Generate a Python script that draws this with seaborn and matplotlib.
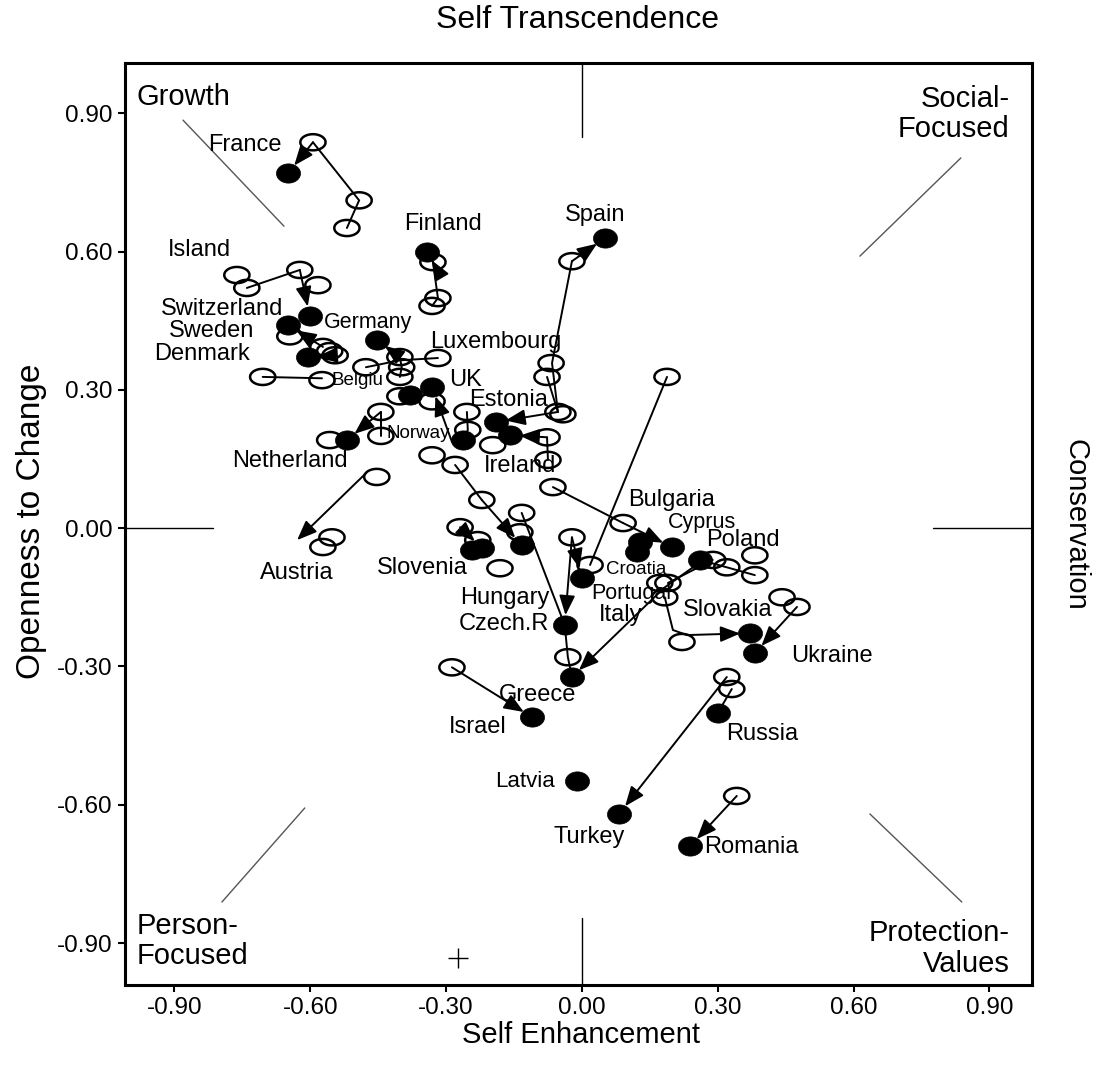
import numpy as np
import matplotlib
matplotlib.use('Agg')
import matplotlib.pyplot as plt
from matplotlib.path import Path
import seaborn as sns

# latest round (filled) and earlier rounds (open) of each country
filled_x = [-0.649, -0.342, 0.051, -0.601, -0.649, -0.605, -0.453, -0.380, -0.331, -0.263,
            -0.519, -0.190, -0.159, -0.221, -0.243, -0.133, 0.000, -0.038, -0.022, 0.128,
            0.121, 0.199, 0.261, 0.371, 0.382, 0.300, -0.110, -0.011, 0.082, 0.239]
filled_y = [0.770, 0.599, 0.629, 0.460, 0.440, 0.371, 0.408, 0.289, 0.306, 0.191,
            0.191, 0.230, 0.202, -0.043, -0.048, -0.037, -0.108, -0.210, -0.323, -0.030,
            -0.052, -0.041, -0.069, -0.228, -0.271, -0.401, -0.410, -0.549, -0.620, -0.690]

open_x = [-0.594, -0.492, -0.519, -0.329, -0.318, -0.331, -0.022, -0.762, -0.740, -0.623,
          -0.583, -0.645, -0.572, -0.557, -0.545, -0.705, -0.574, -0.477, -0.402, -0.398,
          -0.402, -0.318, -0.068, -0.077, -0.402, -0.331, -0.254, -0.252, -0.557, -0.444,
          -0.444, -0.197, -0.077, -0.075, -0.053, -0.042, -0.064, -0.331, -0.280, -0.221,
          -0.453, -0.552, -0.572, -0.269, -0.181, -0.133, -0.137, -0.230, -0.022, 0.018,
          0.091, 0.188, 0.289, 0.320, 0.382, 0.382, 0.172, 0.190, 0.183, 0.221,
          0.442, 0.475, 0.320, 0.331, -0.031, -0.287, 0.342]
open_y = [0.837, 0.711, 0.651, 0.577, 0.499, 0.482, 0.579, 0.549, 0.521, 0.560,
          0.527, 0.416, 0.393, 0.384, 0.375, 0.328, 0.321, 0.349, 0.371, 0.349,
          0.328, 0.369, 0.358, 0.328, 0.286, 0.275, 0.252, 0.213, 0.191, 0.252,
          0.200, 0.180, 0.197, 0.148, 0.252, 0.247, 0.089, 0.158, 0.137, 0.061,
          0.111, -0.020, -0.041, 0.002, -0.087, 0.033, -0.009, -0.026, -0.020, -0.080,
          0.011, 0.328, -0.069, -0.085, -0.059, -0.102, -0.119, -0.119, -0.150, -0.247,
          -0.150, -0.171, -0.323, -0.349, -0.280, -0.302, -0.581]

# trajectories between rounds (arrow on the last step)
path_x = [[-0.519, -0.492, -0.594, -0.649], [-0.331, -0.318, -0.329, -0.342],
          [-0.053, -0.066, -0.022, 0.051], [-0.740, -0.623, -0.601], [-0.572, -0.649],
          [-0.705, -0.574], [-0.545, -0.605], [-0.402, -0.398, -0.402, -0.453],
          [-0.477, -0.402, -0.318], [-0.287, -0.331], [-0.254, -0.252, -0.263],
          [-0.444, -0.444, -0.519], [-0.077, -0.053, -0.190], [-0.075, -0.077, -0.159],
          [-0.280, -0.221, -0.133], [-0.269, -0.221], [-0.133, -0.038], [-0.022, 0.000],
          [-0.022, -0.038], [0.188, 0.018], [-0.038, -0.031, -0.022], [0.261, 0.181, -0.022],
          [0.382, 0.320, 0.261], [0.289, 0.190], [-0.064, 0.091, 0.199],
          [0.183, 0.201, 0.232, 0.371], [0.475, 0.382], [0.331, 0.300], [0.320, 0.082],
          [-0.287, -0.110], [0.342, 0.239], [-0.476, -0.629]]
path_y = [[0.651, 0.711, 0.837, 0.770], [0.482, 0.499, 0.577, 0.599],
          [0.252, 0.358, 0.579, 0.629], [0.521, 0.560, 0.460], [0.393, 0.440],
          [0.328, 0.325], [0.375, 0.371], [0.328, 0.349, 0.371, 0.408],
          [0.349, 0.364, 0.369], [0.187, 0.306], [0.252, 0.213, 0.191],
          [0.200, 0.252, 0.191], [0.328, 0.252, 0.230], [0.148, 0.197, 0.202],
          [0.137, 0.061, -0.037], [0.002, -0.043], [0.033, -0.210], [-0.020, -0.108],
          [-0.020, -0.210], [0.328, -0.080], [-0.210, -0.280, -0.323], [-0.074, -0.130, -0.323],
          [-0.102, -0.085, -0.069], [-0.069, -0.119], [0.089, 0.011, -0.041],
          [-0.150, -0.221, -0.232, -0.228], [-0.171, -0.271], [-0.349, -0.401], [-0.323, -0.620],
          [-0.302, -0.410], [-0.581, -0.690], [0.120, -0.026]]
path_arrow = [1, 1, 1, 1, 1, 0, 1, 1, 0, 1, 0, 1, 1, 1, 1, 1, 0, 1, 1, 0, 0, 1,
              0, 0, 1, 1, 1, 0, 1, 1, 1, 2]   # 2 = arrow without a dot at the end

countries = ['France', 'Island', 'Switzerland', 'Sweden', 'Denmark', 'Germany', 'Belgiu',
             'Luxembourg', 'UK', 'Estonia', 'Norway', 'Netherland', 'Ireland', 'Austria',
             'Slovenia', 'Hungary', 'Czech.R', 'Croatia', 'Portugal', 'Italy', 'Bulgaria',
             'Cyprus', 'Poland', 'Slovakia', 'Ukraine', 'Russia', 'Greece', 'Israel',
             'Latvia', 'Turkey', 'Romania', 'Spain', 'Finland']
label_x = [-0.744, -0.844, -0.795, -0.817, -0.839, -0.473, -0.495, -0.190, -0.258, -0.163,
           -0.362, -0.645, -0.137, -0.629, -0.353, -0.170, -0.172, 0.119, 0.110, 0.086,
           0.199, 0.265, 0.356, 0.322, 0.552, 0.398, -0.097, -0.230, -0.126, 0.016,
           0.375, 0.029, -0.307]
label_y = [0.831, 0.603, 0.475, 0.427, 0.377, 0.447, 0.321, 0.403, 0.321, 0.278,
           0.206, 0.145, 0.134, -0.098, -0.087, -0.152, -0.208, -0.089, -0.141, -0.189,
           0.061, 0.013, -0.026, -0.178, -0.278, -0.447, -0.362, -0.432, -0.549, -0.670,
           -0.692, 0.679, 0.659]
label_size = [17, 17, 17, 17, 17, 15.5, 13.5, 17, 17, 17, 13.5, 17, 17, 17, 17, 17, 17,
              13.5, 15.5, 17, 17, 15.5, 17, 17, 17, 17, 17, 17, 16, 17, 17, 17, 17]

ticks = [-0.9, -0.6, -0.3, 0.0, 0.3, 0.6, 0.9]
tick_labels = ['-0.90', '-0.60', '-0.30', '0.00', '0.30', '0.60', '0.90']

sns.set_theme(style='white')
plt.rcParams['font.family'] = ['Liberation Sans', 'DejaVu Sans']
plt.rcParams['text.color'] = 'black'
plt.rcParams['axes.labelcolor'] = 'black'

fig = plt.figure(figsize=(10.94, 10.69), dpi=100)
ax = fig.add_axes([0.1143, 0.0786, 0.829, 0.8625])

t = np.linspace(0, 2 * np.pi, 80)
open_mark = Path(np.column_stack([np.cos(t), 0.64 * np.sin(t)]))
dot_mark = Path(np.column_stack([np.cos(t), 0.8 * np.sin(t)]))

# trajectories
for xs, ys, arr in zip(path_x, path_y, path_arrow):
    if arr:
        if len(xs) > 2:
            ax.plot(xs[:-1], ys[:-1], color='black', lw=1.4, zorder=2)
        ax.annotate('', xy=(xs[-1], ys[-1]), xytext=(xs[-2], ys[-2]),
                    arrowprops=dict(arrowstyle='-|>,head_length=0.75,head_width=0.3',
                                    color='black', lw=1.4, shrinkA=0,
                                    shrinkB=7 if arr == 1 else 0, mutation_scale=16),
                    zorder=3)
    else:
        ax.plot(xs, ys, color='black', lw=1.4, zorder=2)

sns.scatterplot(x=open_x, y=open_y, marker=open_mark, s=330, facecolor='none',
                edgecolor='black', linewidth=1.8, ax=ax, zorder=3)
sns.scatterplot(x=filled_x, y=filled_y, marker=dot_mark, s=300, color='black',
                edgecolor='black', linewidth=0.5, ax=ax, zorder=4)

for name, lx, ly, fs in zip(countries, label_x, label_y, label_size):
    ax.text(lx, ly, name, ha='center', va='center', fontsize=fs, color='black', zorder=5)

# quadrant guides
ax.plot([0, 0], [0.848, 1.01], color='black', lw=1)
ax.plot([0, 0], [-0.846, -1.0], color='black', lw=1)
ax.plot([-1.01, -0.815], [0, 0], color='black', lw=1)
ax.plot([0.775, 1.0], [0, 0], color='black', lw=1)
ax.plot([-0.881, -0.658], [0.885, 0.655], color='#555555', lw=1)
ax.plot([0.614, 0.837], [0.590, 0.803], color='#555555', lw=1)
ax.plot([-0.795, -0.612], [-0.811, -0.607], color='#555555', lw=1)
ax.plot([0.636, 0.839], [-0.620, -0.811], color='#555555', lw=1)
ax.plot([-0.274], [-0.933], marker='+', ms=14, mew=1, color='black')

ax.text(-0.983, 0.935, 'Growth', ha='left', va='center', fontsize=21)
ax.text(0.945, 0.898, 'Social-\nFocused', ha='right', va='center', fontsize=21, linespacing=1.12)
ax.text(-0.983, -0.895, 'Person-\nFocused', ha='left', va='center', fontsize=21, linespacing=1.1)
ax.text(0.945, -0.912, 'Protection-\nValues', ha='right', va='center', fontsize=21, linespacing=1.1)

ax.set_xlim(-1.009, 0.994)
ax.set_ylim(-0.991, 1.009)
ax.set_xticks(ticks)
ax.set_xticklabels(tick_labels)
ax.set_yticks(ticks)
ax.set_yticklabels(tick_labels)
ax.tick_params(bottom=True, left=True, direction='out', length=5, width=1.5,
               labelsize=17.5, pad=4, colors='black')
for sp in ax.spines.values():
    sp.set_visible(True)
    sp.set_linewidth(2.2)
    sp.set_color('black')

ax.set_xlabel('Self Enhancement', fontsize=21)
ax.xaxis.set_label_coords(0.503, -0.039)
ax.set_ylabel('Openness to Change', fontsize=24)
ax.yaxis.set_label_coords(-0.086, 0.503)
fig.text(0.528, 0.981, 'Self Transcendence', ha='center', va='center', fontsize=23)
fig.text(0.983, 0.509, 'Conservation', ha='center', va='center', fontsize=21, rotation=-90)

fig.savefig('out.png', dpi=100)
